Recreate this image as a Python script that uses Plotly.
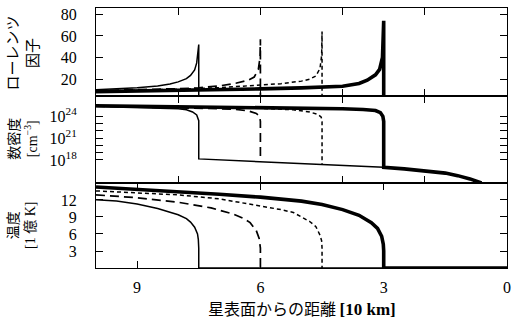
import plotly.graph_objects as go

# ---------------- data ----------------
# Top panel: Lorentz factor
lor_thin_x = [10, 9.5, 9, 8.5, 8.2, 8.0, 7.8, 7.7, 7.6, 7.55, 7.52, 7.5, 7.5, 0]
lor_thin_y = [10.3, 11, 12, 13.6, 15.5, 17.5, 20.5, 23.5, 28.5, 35, 44, 52, 1, 1]
lor_dash_x = [10, 9, 8, 7.5, 7, 6.6, 6.3, 6.15, 6.05, 6.01, 6.0, 6.0]
lor_dash_y = [9.5, 10.2, 11.2, 12, 13.8, 16.2, 19, 22, 29, 40, 57, 1]
lor_dot_x = [10, 9, 8, 7, 6, 5.5, 5, 4.8, 4.65, 4.55, 4.51, 4.5, 4.5]
lor_dot_y = [9, 9.8, 10.8, 12.2, 14.2, 15.8, 18.2, 20, 23, 30, 42, 64, 1]
lor_thick_x = [10, 9, 8, 7, 6, 5, 4.5, 4, 3.6, 3.4, 3.2, 3.1, 3.03, 3.0, 3.0, 0]
lor_thick_y = [8.5, 9, 9.6, 10.2, 11, 12, 12.7, 13.5, 16, 19, 24, 29, 40, 74, 1, 1]

# Middle panel: number density, log10 [cm^-3]
den_thin_x = [10, 9, 8.5, 8, 7.8, 7.65, 7.55, 7.5, 7.5, 6, 4.5, 3]
den_thin_log = [25.35, 25.25, 25.15, 25.05, 24.9, 24.6, 24.2, 23.4, 18.15, 17.78, 17.4, 17.0]
den_dash_x = [10, 9, 8, 7, 6.6, 6.3, 6.1, 6.02, 6.0, 6.0]
den_dash_log = [25.4, 25.3, 25.2, 25.05, 24.95, 24.75, 24.4, 24.0, 23.3, 17.78]
den_dot_x = [10, 8, 6, 5.2, 4.8, 4.6, 4.52, 4.5, 4.5]
den_dot_log = [25.45, 25.3, 25.1, 24.9, 24.6, 24.25, 23.9, 23.3, 17.4]
den_thick_x = [10, 8, 6, 4, 3.5, 3.2, 3.08, 3.02, 3.0, 3.0, 2.5, 2.0, 1.5, 1.2, 0.9, 0.62]
den_thick_log = [25.45, 25.35, 25.2, 25.05, 24.95, 24.8, 24.5, 24.0, 23.3, 17.0,
                 16.78, 16.53, 16.2, 15.85, 15.4, 14.84]

# Bottom panel: temperature [1e8 K]
tmp_thin_x = [10, 9.5, 9, 8.5, 8, 7.8, 7.7, 7.6, 7.53, 7.51, 7.5, 7.5, 0]
tmp_thin_y = [12.05, 11.8, 11.3, 10.5, 9.4, 8.7, 8.1, 7.2, 6.0, 5.0, 3.5, 0, 0]
tmp_dash_x = [10, 9, 8, 7.2, 6.65, 6.4, 6.25, 6.1, 6.03, 6.0, 6.0]
tmp_dash_y = [12.9, 12.4, 11.6, 10.6, 9.5, 8.7, 8.0, 6.6, 5.2, 3.5, 0]
tmp_dot_x = [10, 9, 8, 7, 6, 5.5, 5.2, 4.8, 4.65, 4.6, 4.55, 4.51, 4.5, 4.5]
tmp_dot_y = [13.6, 13.3, 12.9, 12.2, 11.0, 10.3, 9.8, 8.2, 7.3, 6.6, 5.8, 4.8, 3.5, 0]
tmp_thick_x = [10, 9, 8, 7, 6, 5, 4.5, 4, 3.6, 3.3, 3.15, 3.05, 3.01, 3.0, 3.0, 0]
tmp_thick_y = [14.3, 13.9, 13.5, 13.0, 12.5, 11.8, 11.2, 10.3, 9.3, 8.0, 7.0, 5.6, 4.2, 3.0, 0, 0]

# ticks
lor_ticks = [20, 40, 60, 80]
den_label_exp = [18, 21, 24]
den_minor_exp = [19, 20, 22, 23]
tmp_ticks = [3, 6, 9, 12]
x_ticks_bottom = [0, 3, 6, 9]
x_ticks_upper = [2, 4, 6, 8]

# ---------------- styles ----------------
styles = {
    "thin": dict(color="black", width=1.5),
    "dash": dict(color="black", width=1.7, dash="9px,5px"),
    "dot": dict(color="black", width=1.5, dash="4px,3px"),
    "thick": dict(color="black", width=3.6),
}

fig = go.Figure()

def add(x, y, style, xa, ya):
    fig.add_trace(go.Scatter(x=x, y=y, mode="lines", line=styles[style],
                             xaxis=xa, yaxis=ya, showlegend=False, hoverinfo="skip"))

def pow10(vals):
    return [10.0 ** v for v in vals]

# top
add(lor_thin_x, lor_thin_y, "thin", "x", "y")
add(lor_dash_x, lor_dash_y, "dash", "x", "y")
add(lor_dot_x, lor_dot_y, "dot", "x", "y")
add(lor_thick_x, lor_thick_y, "thick", "x", "y")
# middle
add(den_thin_x, pow10(den_thin_log), "thin", "x2", "y2")
add(den_dash_x, pow10(den_dash_log), "dash", "x2", "y2")
add(den_dot_x, pow10(den_dot_log), "dot", "x2", "y2")
add(den_thick_x, pow10(den_thick_log), "thick", "x2", "y2")
# bottom
add(tmp_thin_x, tmp_thin_y, "thin", "x3", "y3")
add(tmp_dash_x, tmp_dash_y, "dash", "x3", "y3")
add(tmp_dot_x, tmp_dot_y, "dot", "x3", "y3")
add(tmp_thick_x, tmp_thick_y, "thick", "x3", "y3")

SERIF = "Liberation Serif"
JP = "Noto Sans CJK JP"
tickfont = dict(family=SERIF, size=16, color="black")

axis_common = dict(showline=True, linecolor="black", linewidth=1, mirror="ticks",
                   ticks="inside", ticklen=7, tickwidth=1, tickcolor="black",
                   showgrid=False, zeroline=False, tickfont=tickfont)

D_TOP = [0.663, 1.0]
D_MID = [0.327, 0.663]
D_BOT = [0.0, 0.327]

fig.update_layout(
    width=517, height=322,
    margin=dict(l=96, r=6, t=6, b=54),
    paper_bgcolor="white", plot_bgcolor="white",
    xaxis=dict(axis_common, range=[10, 0], domain=[0, 1], anchor="y",
               tickvals=x_ticks_upper, showticklabels=False),
    yaxis=dict(axis_common, range=[4.8, 85.8], domain=D_TOP, anchor="x",
               tickvals=lor_ticks, ticklabelstandoff=15),
    xaxis2=dict(axis_common, range=[10, 0], domain=[0, 1], anchor="y2",
                tickvals=x_ticks_upper, showticklabels=False),
    yaxis2=dict(axis_common, type="log", range=[14.84, 26.85], domain=D_MID, anchor="x2",
                tickvals=pow10(den_label_exp),
                ticktext=["10<sup>%d</sup>" % e for e in den_label_exp],
                minor=dict(tickmode="array", tickvals=pow10(den_minor_exp), ticks="inside",
                           ticklen=7, tickwidth=1, tickcolor="black", showgrid=False),
                ticklabelstandoff=15),
    xaxis3=dict(axis_common, range=[10, 0], domain=[0, 1], anchor="y3",
                tickvals=x_ticks_bottom, ticktext=[str(v) for v in x_ticks_bottom],
                ticklabelstandoff=5),
    yaxis3=dict(axis_common, range=[0, 15], domain=D_BOT, anchor="x3",
                tickvals=tmp_ticks, ticklabelstandoff=15),
)

def serif(s, bold=False, size=None):
    inner = "<b>%s</b>" % s if bold else s
    sz = "font-size:%dpx;" % size if size else ""
    return "<span style=\"font-family:'Liberation Serif';%s\">%s</span>" % (sz, inner)

title_font = dict(family=JP, size=14, color="black")
ann_x = (21 - 96) / 415.0
fig.add_annotation(text="ローレンツ<br>因子", xref="paper", yref="paper",
                   x=ann_x, y=(268 - 51) / 262.0, textangle=-90, showarrow=False,
                   xanchor="center", yanchor="middle",
                   font=dict(family=JP, size=15, color="black"))
fig.add_annotation(text="数密度<br>" + serif("[cm<sup>−3</sup>]"), xref="paper", yref="paper",
                   x=ann_x, y=(268 - 138) / 262.0, textangle=-90, showarrow=False,
                   xanchor="center", yanchor="middle", font=title_font)
fig.add_annotation(text=serif("[1 ") + "億" + serif(" K]"), xref="paper", yref="paper",
                   x=ann_x + 8 / 415.0, y=(268 - 225) / 262.0, textangle=-90, showarrow=False,
                   xanchor="center", yanchor="middle", font=title_font)
fig.add_annotation(text="温度", xref="paper", yref="paper",
                   x=ann_x - 9 / 415.0, y=(268 - 225) / 262.0, textangle=-90, showarrow=False,
                   xanchor="center", yanchor="middle", font=title_font)
fig.add_annotation(text="星表面からの距離 " + serif("[10 km]", bold=True, size=17),
                   xref="paper", yref="paper",
                   x=0.5, y=(268 - 308) / 262.0, showarrow=False,
                   xanchor="center", yanchor="middle",
                   font=dict(family=JP, size=16, color="black"))

fig.write_html("out.html")
